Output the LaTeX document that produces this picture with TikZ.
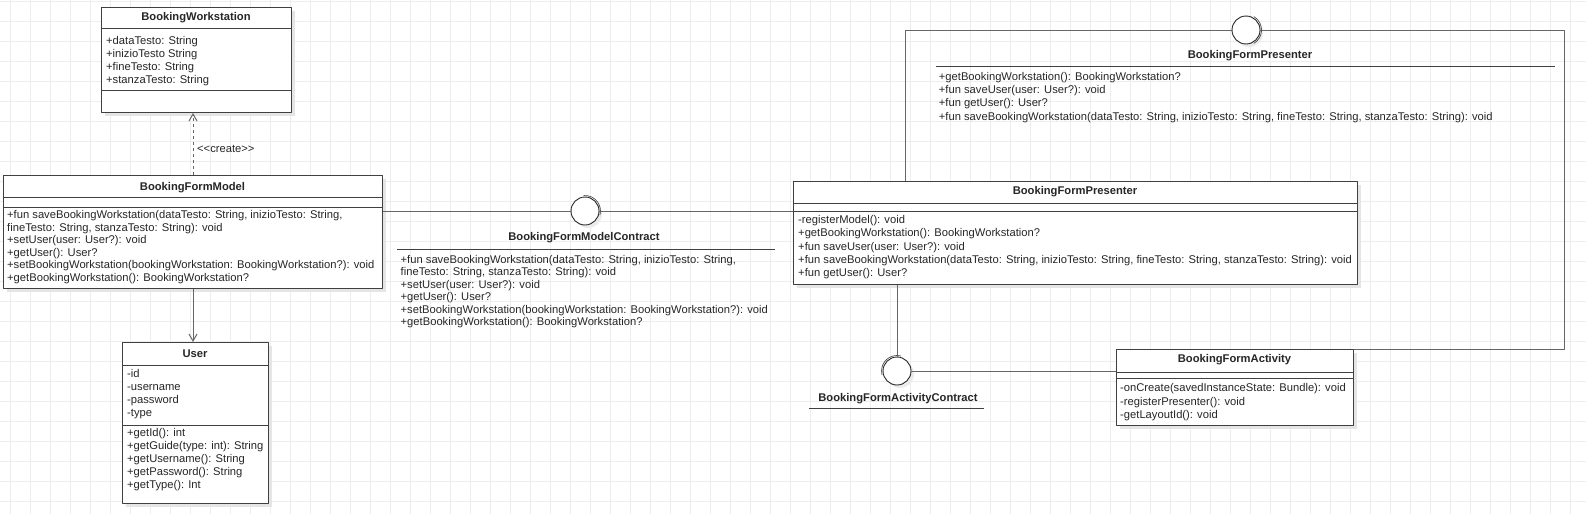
\documentclass[tikz,border=0pt]{standalone}
\usepackage{fontspec}
\setmainfont{Liberation Sans}
\usetikzlibrary{arrows.meta,shadows}
\begin{document}
\begin{tikzpicture}[x=1pt, y=1pt, >={Straight Barb[length=7pt,width=8pt]}, line join=round,
	font=\fontsize{11.2}{13}\selectfont, text=black!85,
	gridline/.style={draw=black!7, line width=0.8pt},
	umlbox/.style={draw=black!75, fill=white, line width=1pt, anchor=north west, inner sep=0pt,
		drop shadow={shadow xshift=3pt, shadow yshift=-3pt, fill=black!10, opacity=1}},
	boxrule/.style={draw=black!75, line width=1pt},
	classtitle/.style={font=\fontsize{11.2}{13}\selectfont\bfseries, inner sep=0pt},
	members/.style={anchor=north west, align=left, inner sep=0pt},
	wire/.style={draw=black!60, line width=1pt},
	ball/.style={circle, draw=black!85, fill=white, minimum size=28pt, inner sep=0pt, line width=0.9pt,
		drop shadow={shadow xshift=3pt, shadow yshift=-3pt, fill=black!8, opacity=1}},
	ballarc/.style={draw=black!70, line width=0.7pt}]
	\useasboundingbox (0,0) rectangle (1586,-514);
	% grid
	\begin{scope}[shift={(10,-1)}]
		\draw[gridline, step=20pt] (-10,1) grid (1576,-513);
	\end{scope}

	% BookingWorkstation
	\node[umlbox, minimum width=190pt, minimum height=105pt] (ws) at (101,-7) {};
	\draw[boxrule] (101,-28) -- (291,-28) (101,-90) -- (291,-90);
	\node[classtitle] (wsname) at (196,-18) {BookingWorkstation};
	\node[members] (wsattr) at (106,-35.8) {+dataTesto: String\\+inizioTesto String\\+fineTesto: String\\+stanzaTesto: String};

	% BookingFormModel
	\node[umlbox, minimum width=379pt, minimum height=113pt] (model) at (3,-175) {};
	\draw[boxrule] (3,-197) -- (382,-197) (3,-207) -- (382,-207);
	\node[classtitle] (modelname) at (192.5,-187.5) {BookingFormModel};
	\node[members, font=\fontsize{11.2}{12.5}\selectfont] (modelops) at (7,-210.3) {+fun saveBookingWorkstation(dataTesto: String, inizioTesto: String,\\fineTesto: String, stanzaTesto: String): void\\+setUser(user: User?): void\\+getUser(): User?\\+setBookingWorkstation(bookingWorkstation: BookingWorkstation?): void\\+getBookingWorkstation(): BookingWorkstation?};

	% User
	\node[umlbox, minimum width=146pt, minimum height=161pt] (user) at (122,-342) {};
	\draw[boxrule] (122,-365) -- (268,-365) (122,-425) -- (268,-425);
	\node[classtitle] (username) at (195,-354) {User};
	\node[members] (userattr) at (127,-369.3) {-id\\-username\\-password\\-type};
	\node[members] (userops) at (127,-428.3) {+getId(): int\\+getGuide(type: int): String\\+getUsername(): String\\+getPassword(): String\\+getType(): Int};

	% BookingFormPresenter
	\node[umlbox, minimum width=564pt, minimum height=103pt] (presenter) at (793,-181) {};
	\draw[boxrule] (793,-203) -- (1357,-203) (793,-211.5) -- (1357,-211.5);
	\node[classtitle] (presname) at (1075,-192) {BookingFormPresenter};
	\node[members, font=\fontsize{11.2}{13.3}\selectfont] (presops) at (798,-215.3) {-registerModel(): void\\+getBookingWorkstation(): BookingWorkstation?\\+fun saveUser(user: User?): void\\+fun saveBookingWorkstation(dataTesto: String, inizioTesto: String, fineTesto: String, stanzaTesto: String): void\\+fun getUser(): User?};

	% BookingFormActivity
	\node[umlbox, minimum width=237pt, minimum height=76pt] (activity) at (1116,-349) {};
	\draw[boxrule] (1116,-372) -- (1353,-372) (1116,-378) -- (1353,-378);
	\node[classtitle] (actname) at (1234.5,-360) {BookingFormActivity};
	\node[members, font=\fontsize{11.2}{13.5}\selectfont] (actops) at (1120,-383.3) {-onCreate(savedInstanceState: Bundle): void\\-registerPresenter(): void\\-getLayoutId(): void};

	% interfaces
	\node[ball] (modelball) at (585,-211) {};
	\draw[ballarc] ([shift={(95:15.5)}]modelball.center) arc[start angle=95, end angle=-15, radius=15.5];
	\node[classtitle] (modelcname) at (584,-237.7) {BookingFormModelContract};
	\draw[boxrule] (397,-249) -- (775,-249);
	\node[members, font=\fontsize{11.2}{12.5}\selectfont] (modelcops) at (400.5,-254.8) {+fun saveBookingWorkstation(dataTesto: String, inizioTesto: String,\\fineTesto: String, stanzaTesto: String): void\\+setUser(user: User?): void\\+getUser(): User?\\+setBookingWorkstation(bookingWorkstation: BookingWorkstation?): void\\+getBookingWorkstation(): BookingWorkstation?};

	\node[ball] (presball) at (1246,-30) {};
	\draw[ballarc] ([shift={(60:15.5)}]presball.center) arc[start angle=60, end angle=-60, radius=15.5];
	\node[classtitle] (prescname) at (1250,-56) {BookingFormPresenter};
	\draw[boxrule] (935.6,-66.8) -- (1555,-66.8);
	\node[members, font=\fontsize{11.2}{13.4}\selectfont] (prescops) at (938.7,-71.8) {+getBookingWorkstation(): BookingWorkstation?\\+fun saveUser(user: User?): void\\+fun getUser(): User?\\+fun saveBookingWorkstation(dataTesto: String, inizioTesto: String, fineTesto: String, stanzaTesto: String): void};

	\node[ball] (actball) at (897,-371) {};
	\draw[ballarc] ([shift={(75:15.5)}]actball.center) arc[start angle=75, end angle=195, radius=15.5];
	\node[classtitle] (actcname) at (898,-398.5) {BookingFormActivityContract};
	\draw[boxrule] (809,-408.6) -- (984,-408.6);

	% connectors
	\coordinate (presup) at (905,-181);
	\coordinate (presturn) at (1564,-30);
	\draw[wire, dashed, ->] (model.north) -- (model.north |- ws.south);
	\node[anchor=west, inner sep=0pt] (createlbl) at (197,-148.7) {<\kern0pt<create>\kern0pt>};
	\draw[wire, ->] (model.south) -- (model.south |- user.north);
	\draw[wire] (modelball.west) -- (modelball.west -| model.east);
	\draw[wire] (modelball.east) -- (modelball.east -| presenter.west);
	\draw[wire] (presball.west) -| (presup);
	\draw[wire] (presball.east) -- (presturn) |- (activity.north east);
	\draw[wire] (actball.north) -- (actball.north |- presenter.south);
	\draw[wire] (actball.east) -- (actball.east -| activity.west);
\end{tikzpicture}
\end{document}
